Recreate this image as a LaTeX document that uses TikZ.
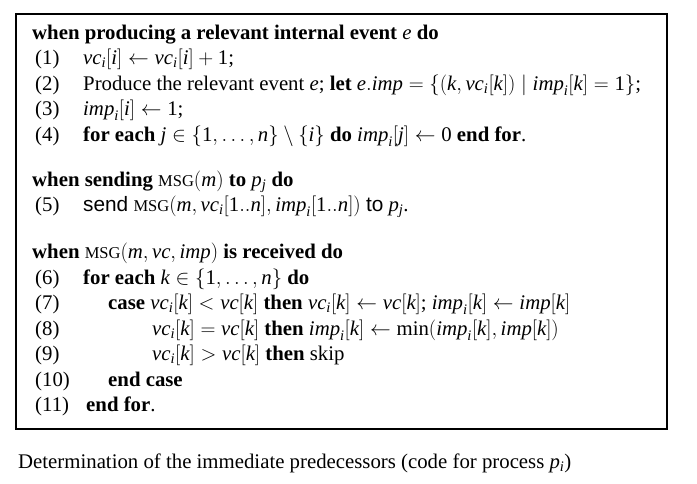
\documentclass[tikz,border=0pt]{standalone}
\usepackage{mathspec}
\setmainfont{Liberation Serif}
\setsansfont{Liberation Sans}
\setmathsfont(Digits,Latin){Liberation Serif}
\newcommand{\smsg}{{\fontsize{16.5}{18}\selectfont MSG}}
\newcommand{\vcx}{\textit{vc}}
\newcommand{\impx}{\textit{imp}}
\newcommand{\minx}{\textrm{min}}
\tikzset{
  codeline/.style={anchor=base west, inner sep=0pt, font=\fontsize{20.8}{24}\selectfont},
  frame/.style={draw=black, line width=1.1pt}
}
\begin{document}
\begin{tikzpicture}[x=1pt,y=-1pt]
\useasboundingbox (0,0) rectangle (697,483);
\draw[frame] (16,14) rectangle (667,429);
% header 1
\node[codeline] (h1) at (32,39) {\textbf{when producing a relevant internal event} $e$ \textbf{do}};
\node[codeline] (l1n) at (35,64.5) {(1)};
\node[codeline] (l1) at (83,64.5) {$\vcx_i[i]\leftarrow \vcx_i[i]+1$;};
\node[codeline] (l2n) at (35,90) {(2)};
\node[codeline] (l2) at (83,90) {Produce the relevant event $e$; \textbf{let} $e.\impx=\{(k,\vcx_i[k])\mid \impx_i[k]=1\}$;};
\node[codeline] (l3n) at (35,115.5) {(3)};
\node[codeline] (l3) at (83,115.5) {$\impx_i[i]\leftarrow 1$;};
\node[codeline] (l4n) at (35,141) {(4)};
\node[codeline] (l4) at (83,141) {\textbf{for each} $j\in\{1,\ldots,n\}\setminus\{i\}$ \textbf{do} $\impx_i[j]\leftarrow 0$ \textbf{end for}.};
% header 2
\node[codeline] (h2) at (32,186) {\textbf{when sending} \smsg$(m)$ \textbf{to} $p_j$ \textbf{do}};
\node[codeline] (l5n) at (35,211.5) {(5)};
\node[codeline] (l5) at (83,211.5) {{\sffamily send} \smsg$(m,\vcx_i[1..n],\impx_i[1..n])$ {\sffamily to} $p_j$.};
% header 3
\node[codeline] (h3) at (32,258) {\textbf{when} \smsg$(m,\vcx,\impx)$ \textbf{is received do}};
\node[codeline] (l6n) at (35,284) {(6)};
\node[codeline] (l6) at (83,284) {\textbf{for each} $k\in\{1,\ldots,n\}$ \textbf{do}};
\node[codeline] (l7n) at (35,309.5) {(7)};
\node[codeline] (l7) at (108,309.5) {\textbf{case} $\vcx_i[k]<\vcx[k]$ \textbf{then} $\vcx_i[k]\leftarrow \vcx[k]$; $\impx_i[k]\leftarrow \impx[k]$};
\node[codeline] (l8n) at (35,335) {(8)};
\node[codeline] (l8) at (152,335) {$\vcx_i[k]=\vcx[k]$ \textbf{then} $\impx_i[k]\leftarrow \minx(\impx_i[k],\impx[k])$};
\node[codeline] (l9n) at (35,360.5) {(9)};
\node[codeline] (l9) at (152,360.5) {$\vcx_i[k]>\vcx[k]$ \textbf{then} skip};
\node[codeline] (l10n) at (35,386) {(10)};
\node[codeline] (l10) at (108,386) {\textbf{end case}};
\node[codeline] (l11n) at (35,411.5) {(11)};
\node[codeline] (l11) at (86,411.5) {\textbf{end for}.};
% caption
\node[codeline] (cap) at (18,468) {Determination of the immediate predecessors (code for process $p_i$)};
\end{tikzpicture}
\end{document}
